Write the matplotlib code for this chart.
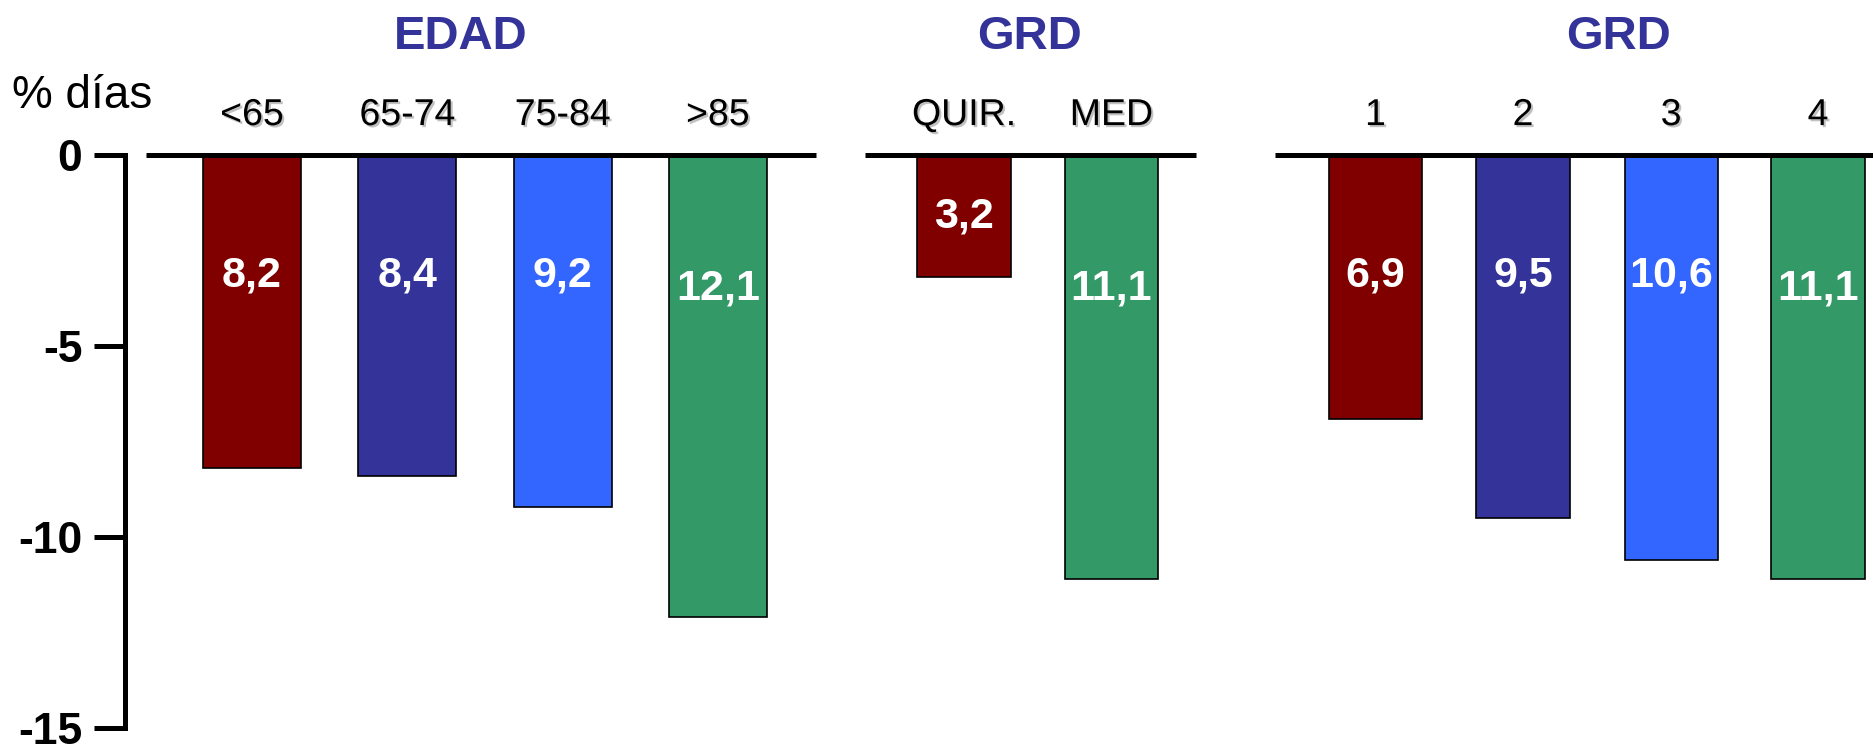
import matplotlib
matplotlib.use("Agg")
import matplotlib.pyplot as plt
import matplotlib.patheffects as pe

# ---- data -------------------------------------------------------------
group_titles = ["EDAD", "GRD", "GRD"]
edad_labels = ["<65", "65-74", "75-84", ">85"]
edad_values = [8.2, 8.4, 9.2, 12.1]
tipo_labels = ["QUIR.", "MED"]
tipo_values = [3.2, 11.1]
nivel_labels = ["1", "2", "3", "4"]
nivel_values = [6.9, 9.5, 10.6, 11.1]
y_ticks = [0, -5, -10, -15]
y_label = "% días"

# ---- styling ----------------------------------------------------------
c_red, c_navy, c_blue, c_green = "#800000", "#333399", "#3366FF", "#339966"
edad_colors = [c_red, c_navy, c_blue, c_green]
tipo_colors = [c_red, c_green]
nivel_colors = [c_red, c_navy, c_blue, c_green]

# layout in horizontal units across the figure width
groups = [
    dict(labels=edad_labels, values=edad_values, colors=edad_colors,
         centers=[211, 341, 471, 601], width=82, base=(122, 683), title_x=386),
    dict(labels=tipo_labels, values=tipo_values, colors=tipo_colors,
         centers=[807, 930.5], width=78, base=(724, 1001), title_x=862),
    dict(labels=nivel_labels, values=nivel_values, colors=nivel_colors,
         centers=[1151.5, 1275, 1399, 1522], width=78, base=(1067, 1575), title_x=1355),
]

sans = ["Liberation Sans", "DejaVu Sans"]

fig = plt.figure(figsize=(18.73, 7.52), dpi=100)
ax = fig.add_axes([0, 0, 1, 1])
ax.set_xlim(0, 1568)
ax.set_ylim(-15.625, 4.0625)
ax.patch.set_visible(False)

for s in ("top", "right", "bottom"):
    ax.spines[s].set_visible(False)
ax.spines["left"].set_position(("data", 105))
ax.spines["left"].set_bounds(-15, 0)
ax.spines["left"].set_linewidth(3.6)
ax.set_xticks([])
ax.set_yticks(y_ticks)
ax.set_yticklabels([str(t) for t in y_ticks], fontsize=32, fontweight="bold",
                   family=sans)
ax.tick_params(axis="y", length=22, width=3.6, pad=9)

shadow = [pe.SimplePatchShadow(offset=(1.5, -1.5), shadow_rgbFace="0.6", alpha=0.6),
          pe.Normal()]

for gi, g in enumerate(groups):
    ax.hlines(0, g["base"][0], g["base"][1], color="black", lw=3.6, zorder=3)
    bars = ax.bar(g["centers"], [-v for v in g["values"]], width=g["width"],
                  color=g["colors"], edgecolor="black", linewidth=1.2,
                  align="center", zorder=2)
    for rect, v, lab in zip(bars, g["values"], g["labels"]):
        xc = rect.get_x() + rect.get_width() / 2
        ly = -3.5 if v >= 11 else -3.15
        ly = max(ly, -v / 2)
        ax.text(xc, ly, f"{v:.1f}".replace(".", ","), color="white",
                fontsize=31, fontweight="bold", ha="center", va="center",
                family=sans, zorder=4)
        ax.text(xc, 1.05, lab, fontsize=27, ha="center", va="center",
                family=sans, path_effects=shadow, zorder=4)
    ax.text(g["title_x"], 3.1, group_titles[gi], color=c_navy, fontsize=34,
            fontweight="bold", ha="center", va="center", family=sans)

ax.text(10, 1.55, y_label, fontsize=33, ha="left", va="center", family=sans)

fig.savefig("out.png", dpi=100)
